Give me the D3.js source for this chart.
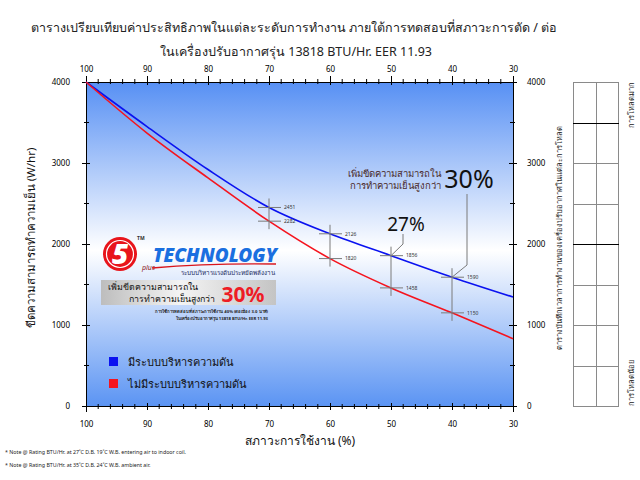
<!DOCTYPE html>
<html><head><meta charset="utf-8">
<script src="https://cdn.jsdelivr.net/npm/d3@7"></script>
<style>body{margin:0;background:#fff}svg{display:block}text{font-family:"Noto Sans","DejaVu Sans",sans-serif}</style>
</head><body><div id="c"></div>
<script>
const loads = [100, 90, 80, 70, 60, 50, 40, 30];
const withPressure = [4000, 3450, 2920, 2451, 2126, 1856, 1590, 1345];
const withoutPressure = [4000, 3370, 2816, 2282, 1820, 1458, 1150, 830];
const markedLoads = [70, 60, 50, 40];
const xTicks = [100, 90, 80, 70, 60, 50, 40, 30];
const yTicks = [0, 1000, 2000, 3000, 4000];
const seriesNames = ["มีระบบบริหารความดัน", "ไม่มีระบบบริหารความดัน"];
const seriesColors = ["#0a12f0", "#f5141e"];

const W = 640, H = 480;
const svg = d3.select("#c").append("svg").attr("width", W).attr("height", H);
const x = d3.scaleLinear().domain([100, 30]).range([86, 513]);
const y = d3.scaleLinear().domain([0, 4000]).range([406, 82]);

// background gradient
const defs = svg.append("defs");
const g1 = defs.append("linearGradient").attr("id", "bg").attr("x1", 0).attr("y1", 0).attr("x2", 0).attr("y2", 1);
g1.append("stop").attr("offset", "0%").attr("stop-color", "#5790f4");
g1.append("stop").attr("offset", "52%").attr("stop-color", "#ffffff");
g1.append("stop").attr("offset", "100%").attr("stop-color", "#5b94f3");
const g2 = defs.append("linearGradient").attr("id", "gray").attr("x1", 0).attr("y1", 0).attr("x2", 1).attr("y2", 0);
g2.append("stop").attr("offset", "0%").attr("stop-color", "#bdbdbd");
g2.append("stop").attr("offset", "45%").attr("stop-color", "#f4f4f4");
g2.append("stop").attr("offset", "100%").attr("stop-color", "#c4c4c4");

svg.append("rect").attr("x", x(100)).attr("y", y(4000)).attr("width", x(30) - x(100)).attr("height", y(0) - y(4000)).attr("fill", "url(#bg)");

// title
svg.append("text").attr("x", 294).attr("y", 32).attr("text-anchor", "middle").attr("font-size", 12.5).attr("fill", "#222")
  .text("ตารางเปรียบเทียบค่าประสิทธิภาพในแต่ละระดับการทำงาน ภายใต้การทดสอบที่สภาวะการตัด / ต่อ");
svg.append("text").attr("x", 296).attr("y", 56).attr("text-anchor", "middle").attr("font-size", 12.5).attr("fill", "#222")
  .text("ในเครื่องปรับอากาศรุ่น 13818 BTU/Hr. EER 11.93");

// axes
const minorX = d3.range(100, 29, -2);
const minorY = d3.range(0, 4001, 500);
const fmt = d3.format("d");
function tickFmt(sel) { sel.select(".domain").attr("stroke", "#000"); sel.selectAll("text").attr("font-size", 8).attr("fill", "#000").style("font-family", "'Noto Sans',sans-serif"); }

const axTop = svg.append("g").attr("transform", `translate(0,${y(4000)})`)
  .call(d3.axisTop(x).tickValues(xTicks).tickFormat(fmt).tickSize(6).tickPadding(4)).call(tickFmt);
const axBot = svg.append("g").attr("transform", `translate(0,${y(0)})`)
  .call(d3.axisBottom(x).tickValues(xTicks).tickFormat(fmt).tickSize(6).tickPadding(9)).call(tickFmt);
const axLeft = svg.append("g").attr("transform", `translate(${x(100)},0)`)
  .call(d3.axisLeft(y).tickValues(yTicks).tickFormat(fmt).tickSize(4).tickPadding(12)).call(tickFmt);
const axRight = svg.append("g").attr("transform", `translate(${x(30)},0)`)
  .call(d3.axisRight(y).tickValues(yTicks).tickFormat(fmt).tickSize(4).tickPadding(10)).call(tickFmt);
[axTop, axBot, axLeft, axRight].forEach(a => a.selectAll(".tick line").attr("stroke", "#000"));
axTop.selectAll(".tick line").attr("y2", 3).attr("y1", -6);
axBot.selectAll(".tick line").attr("y1", -3).attr("y2", 4);
axLeft.selectAll(".tick line").attr("x1", 4).attr("x2", -4);
axRight.selectAll(".tick line").attr("x1", -4).attr("x2", 4);
// minor ticks
const mt = svg.append("g").attr("stroke", "#000").attr("stroke-width", 1);
minorX.filter(v => !xTicks.includes(v)).forEach(v => {
  mt.append("line").attr("x1", x(v)).attr("x2", x(v)).attr("y1", y(4000) - 3).attr("y2", y(4000) + 2);
  mt.append("line").attr("x1", x(v)).attr("x2", x(v)).attr("y1", y(0) - 2).attr("y2", y(0) + 3);
});
minorY.filter(v => !yTicks.includes(v)).forEach(v => {
  mt.append("line").attr("x1", x(100) - 2).attr("x2", x(100) + 3).attr("y1", y(v)).attr("y2", y(v));
  mt.append("line").attr("x1", x(30) - 3).attr("x2", x(30) + 2).attr("y1", y(v)).attr("y2", y(v));
});

// axis titles
svg.append("text").attr("transform", `translate(35,238) rotate(-90)`).attr("text-anchor", "middle").attr("font-size", 11.5).attr("fill", "#111")
  .text("ขีดความสามารถทำความเย็น (W/hr)");
svg.append("text").attr("x", 300).attr("y", 445).attr("text-anchor", "middle").attr("font-size", 12).attr("fill", "#111")
  .text("สภาวะการใช้งาน (%)");

// lines
const line = d3.line().x(d => x(d[0])).y(d => y(d[1])).curve(d3.curveMonotoneX);
[withPressure, withoutPressure].forEach((s, i) => {
  svg.append("path").datum(loads.map((l, j) => [l, s[j]])).attr("d", line)
    .attr("fill", "none").attr("stroke", seriesColors[i]).attr("stroke-width", 1.6);
});

// markers at selected loads
const ann = svg.append("g");
markedLoads.forEach(l => {
  const j = loads.indexOf(l);
  const yb = y(withPressure[j]), yr = y(withoutPressure[j]);
  const xx = x(l);
  ann.append("line").attr("x1", xx).attr("x2", xx).attr("y1", yb - 9).attr("y2", yr + 8).attr("stroke", "#7a7a7a").attr("stroke-width", 1);
  [[yb, withPressure[j]], [yr, withoutPressure[j]]].forEach(([yy, v]) => {
    ann.append("line").attr("x1", xx - 11).attr("x2", xx + 12).attr("y1", yy).attr("y2", yy).attr("stroke", "#7a7a7a").attr("stroke-width", 1);
    ann.append("text").attr("x", xx + 15).attr("y", yy + 1.8).attr("font-size", 5).attr("fill", "#333").text(v);
  });
});

// 27% callout
svg.append("text").attr("x", 406).attr("y", 231).attr("text-anchor", "middle").attr("font-size", 19).attr("fill", "#111").text("27%");
svg.append("path").attr("d", `M${x(50) + 12},234 L${x(50) + 12},244 L${x(50)},${y(withPressure[5])}`).attr("fill", "none").attr("stroke", "#7a7a7a");
// 30% callout
svg.append("text").attr("x", 441).attr("y", 177).attr("text-anchor", "end").attr("font-size", 9.5).attr("fill", "#4a2a2a").text("เพิ่มขีดความสามารถใน");
svg.append("text").attr("x", 441).attr("y", 189).attr("text-anchor", "end").attr("font-size", 9.5).attr("fill", "#4a2a2a").text("การทำความเย็นสูงกว่า");
svg.append("text").attr("x", 469).attr("y", 188).attr("text-anchor", "middle").attr("font-size", 25).attr("fill", "#111").text("30%");
svg.append("path").attr("d", `M${x(40) + 15},194 L${x(40) + 15},265 L${x(40)},${y(withPressure[6])}`).attr("fill", "none").attr("stroke", "#7a7a7a");

// logo block
const lg = svg.append("g");
lg.append("circle").attr("cx", 120).attr("cy", 254).attr("r", 17).attr("fill", "#e8141b");
lg.append("circle").attr("cx", 120).attr("cy", 254).attr("r", 13.5).attr("fill", "none").attr("stroke", "#fff").attr("stroke-width", 1.2);
lg.append("text").attr("x", 120).attr("y", 264).attr("text-anchor", "middle").attr("font-size", 28).attr("font-weight", 900).attr("font-style", "italic").attr("fill", "#fff").text("5");
lg.append("text").attr("x", 137).attr("y", 240).attr("font-size", 5).attr("font-weight", "bold").attr("fill", "#333").text("TM");
lg.append("text").attr("x", 142).attr("y", 270).attr("font-size", 7).attr("font-style", "italic").attr("fill", "#8b1a1a").text("plus");
lg.append("path").attr("d", "M152,268 Q210,263 276,264").attr("fill", "none").attr("stroke", "#d9141b").attr("stroke-width", 1.3);
lg.append("text").attr("x", 277).attr("y", 262).attr("text-anchor", "end").attr("font-size", 19).attr("font-weight", 900).attr("font-style", "italic").attr("fill", "#1a6fe0").attr("textLength", 124).attr("lengthAdjust", "spacingAndGlyphs").text("TECHNOLOGY");
lg.append("text").attr("x", 275).attr("y", 275).attr("text-anchor", "end").attr("font-size", 6.3).attr("fill", "#1b2a60").text("ระบบบริหารแรงดันประหยัดพลังงาน");
lg.append("rect").attr("x", 101).attr("y", 280).attr("width", 175).attr("height", 25).attr("fill", "url(#gray)");
lg.append("text").attr("x", 108).attr("y", 290).attr("font-size", 8.8).attr("fill", "#111").text("เพิ่มขีดความสามารถใน");
lg.append("text").attr("x", 215).attr("y", 302).attr("text-anchor", "end").attr("font-size", 8.8).attr("fill", "#111").text("การทำความเย็นสูงกว่า");
lg.append("text").attr("x", 243).attr("y", 302).attr("text-anchor", "middle").attr("font-size", 21).attr("font-weight", "bold").attr("fill", "#ee1c25").text("30%");
lg.append("text").attr("x", 268).attr("y", 313).attr("text-anchor", "end").attr("font-size", 4.2).attr("font-weight", "bold").attr("fill", "#222").text("การใช้การทดสอบที่สภาวะการใช้งาน 40% (ต่อเนื่อง 3.0 นาที)");
lg.append("text").attr("x", 268).attr("y", 320).attr("text-anchor", "end").attr("font-size", 4.2).attr("font-weight", "bold").attr("fill", "#222").text("ในเครื่องปรับอากาศรุ่น 13818 BTU/Hr. EER 11.93");

// legend
seriesNames.forEach((n, i) => {
  const yy = 362 + i * 22;
  svg.append("rect").attr("x", 109).attr("y", yy - 5).attr("width", 9).attr("height", 9).attr("fill", seriesColors[i]);
  svg.append("text").attr("x", 128).attr("y", yy + 4).attr("font-size", 11).attr("fill", "#111").text(n);
});

// right log table
const tbl = svg.append("g");
[573, 596, 618].forEach(xx => tbl.append("line").attr("x1", xx + 0.5).attr("x2", xx + 0.5).attr("y1", y(4000)).attr("y2", y(0)).attr("stroke", "#8a8a8a"));
minorY.forEach(v => {
  const thick = v === 3500 || v === 2000;
  tbl.append("line").attr("x1", 573).attr("x2", 619).attr("y1", Math.round(y(v)) + 0.5).attr("y2", Math.round(y(v)) + 0.5)
    .attr("stroke", thick ? "#000" : "#8a8a8a").attr("stroke-width", 1);
});
svg.append("text").attr("transform", "translate(562,238) rotate(-90)").attr("text-anchor", "middle").attr("font-size", 7.5).attr("fill", "#222")
  .text("ตารางบันทึกเวลาการทำงานของเครื่องปรับอากาศในแต่ละการโหลด");
svg.append("text").attr("transform", `translate(634,${y(4000)}) rotate(-90)`).attr("text-anchor", "end").attr("font-size", 7.5).attr("fill", "#222").text("การโหลดมาก");
svg.append("text").attr("transform", `translate(634,${y(0)}) rotate(-90)`).attr("text-anchor", "start").attr("font-size", 7.5).attr("fill", "#222").text("การโหลดน้อย");

// footnotes
const fn = svg.append("g").attr("font-size", 5.3).attr("fill", "#222");
fn.append("text").attr("x", 5).attr("y", 454).text("* Note @ Rating BTU/Hr. at 27˚C  D.B. 19˚C  W.B. entering air to indoor coil.");
fn.append("text").attr("x", 5).attr("y", 467).text("* Note @ Rating BTU/Hr. at 35˚C D.B.  24˚C  W.B. ambient air.");
</script></body></html>
